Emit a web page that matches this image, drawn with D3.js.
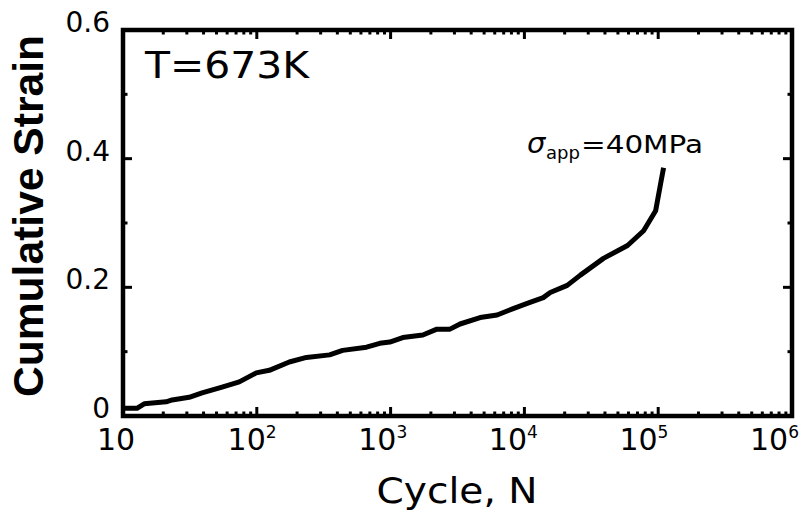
<!DOCTYPE html>
<html>
<head>
<meta charset="utf-8">
<script src="https://cdn.jsdelivr.net/npm/d3@7"></script>
<style>
  html, body { margin: 0; padding: 0; background: #fff; }
  svg { display: block; }
</style>
</head>
<body>
<script>
// ---- Data ----
const cycles = [10, 12.7, 14.4, 21, 23.3, 31.2, 39, 55, 74, 99, 124, 175, 235, 350, 438, 661, 830, 986,
                1233, 1742, 2218, 2779, 3303, 4666, 6255, 8245, 10500, 13840, 15600, 20900, 26200,
                39000, 59000, 77800, 95700, 104000, 109700];
const strain = [0.012, 0.012, 0.019, 0.022, 0.025, 0.029, 0.036, 0.045, 0.053, 0.067, 0.071, 0.084, 0.091,
                0.095, 0.102, 0.107, 0.113, 0.115, 0.122, 0.126, 0.135, 0.135, 0.143, 0.153, 0.157, 0.167,
                0.175, 0.184, 0.192, 0.203, 0.219, 0.245, 0.265, 0.288, 0.319, 0.360, 0.386];
const xMajorTicks = [10, 100, 1000, 10000, 100000, 1000000];
const xTickExponents = ["", "2", "3", "4", "5", "6"];
const yMajorTicks = [0, 0.2, 0.4, 0.6];
const yTickLabels = ["0", "0.2", "0.4", "0.6"];
const yMinorTicks = [0.1, 0.3, 0.5];
const tempLabel = "T=673K";
const stressLabel = "=40MPa";
const xTitle = "Cycle, N";
const yTitle = "Cumulative Strain";

// ---- Layout ----
const W = 808, H = 514;
const pLeft = 123, pRight = 792, pTop = 30, pBottom = 416;

const svg = d3.select("body").append("svg").attr("width", W).attr("height", H);

const x = d3.scaleLog().domain([10, 1e6]).range([pLeft, pRight]);
const y = d3.scaleLinear().domain([0, 0.6]).range([pBottom, pTop]);
// tick-label anchor positions (labels sit slightly left of their ticks, more so to the right)
const xLabel = d3.scaleLog().domain([10, 1e6]).range([pLeft - 26, pRight - 42]);

// minor x ticks
const xMinorTicks = [];
for (let k = 1; k <= 5; k++) for (let m = 2; m <= 9; m++) xMinorTicks.push(m * Math.pow(10, k));

const tickG = svg.append("g").attr("stroke", "#000").attr("stroke-width", 3);
const majL = 9, minL = 4.5;
xMajorTicks.forEach(v => {
  tickG.append("line").attr("x1", x(v)).attr("x2", x(v)).attr("y1", pBottom).attr("y2", pBottom - majL);
  tickG.append("line").attr("x1", x(v)).attr("x2", x(v)).attr("y1", pTop).attr("y2", pTop + majL);
});
xMinorTicks.forEach(v => {
  tickG.append("line").attr("x1", x(v)).attr("x2", x(v)).attr("y1", pBottom).attr("y2", pBottom - minL);
  tickG.append("line").attr("x1", x(v)).attr("x2", x(v)).attr("y1", pTop).attr("y2", pTop + minL);
});
yMajorTicks.forEach(v => {
  tickG.append("line").attr("x1", pLeft).attr("x2", pLeft + majL).attr("y1", y(v)).attr("y2", y(v));
  tickG.append("line").attr("x1", pRight).attr("x2", pRight - majL).attr("y1", y(v)).attr("y2", y(v));
});
yMinorTicks.forEach(v => {
  tickG.append("line").attr("x1", pLeft).attr("x2", pLeft + minL).attr("y1", y(v)).attr("y2", y(v));
  tickG.append("line").attr("x1", pRight).attr("x2", pRight - minL).attr("y1", y(v)).attr("y2", y(v));
});

// frame
svg.append("rect")
  .attr("x", pLeft).attr("y", pTop).attr("width", pRight - pLeft).attr("height", pBottom - pTop)
  .attr("fill", "none").attr("stroke", "#000").attr("stroke-width", 4.5);

// curve
const line = d3.line().x((d, i) => x(cycles[i])).y((d, i) => y(strain[i]));
svg.append("path")
  .datum(strain)
  .attr("d", line)
  .attr("fill", "none").attr("stroke", "#000").attr("stroke-width", 5)
  .attr("stroke-linejoin", "round").attr("stroke-linecap", "butt");

// x tick labels
const font = "'DejaVu Sans', sans-serif";
xMajorTicks.forEach((v, i) => {
  const t = svg.append("text")
    .attr("x", xLabel(v)).attr("y", 450)
    .attr("font-family", font).attr("font-size", 30).attr("fill", "#000");
  t.append("tspan").text("10");
  if (xTickExponents[i]) {
    t.append("tspan").attr("font-size", 17).attr("dy", -12).text(xTickExponents[i]);
  }
});

// y tick labels
yMajorTicks.forEach((v, i) => {
  svg.append("text")
    .attr("x", 110).attr("y", y(v) + 2)
    .attr("text-anchor", "end")
    .attr("font-family", font).attr("font-size", 28).attr("fill", "#000")
    .text(yTickLabels[i]);
});

// axis titles
svg.append("text")
  .attr("x", 457).attr("y", 503)
  .attr("text-anchor", "middle")
  .attr("font-family", font).attr("font-size", 36)
  .attr("textLength", 161).attr("lengthAdjust", "spacingAndGlyphs")
  .text(xTitle);

svg.append("text")
  .attr("transform", "translate(43,216) rotate(-90)")
  .attr("text-anchor", "middle")
  .attr("font-family", "'Liberation Sans', Arial, sans-serif").attr("font-weight", "bold")
  .attr("font-size", 42)
  .attr("textLength", 362).attr("lengthAdjust", "spacingAndGlyphs")
  .text(yTitle);

// temperature label
svg.append("text")
  .attr("x", 145).attr("y", 78)
  .attr("font-family", font).attr("font-size", 38)
  .attr("textLength", 164).attr("lengthAdjust", "spacingAndGlyphs")
  .text(tempLabel);

// stress annotation
svg.append("text")
  .attr("x", 527).attr("y", 153)
  .attr("font-family", font).attr("font-style", "italic").attr("font-size", 29)
  .text("σ");
svg.append("text")
  .attr("x", 546).attr("y", 159)
  .attr("font-family", font).attr("font-size", 18)
  .attr("textLength", 34).attr("lengthAdjust", "spacingAndGlyphs")
  .text("app");
svg.append("text")
  .attr("x", 581).attr("y", 153)
  .attr("font-family", font).attr("font-size", 25)
  .attr("textLength", 122).attr("lengthAdjust", "spacingAndGlyphs")
  .text(stressLabel);
</script>
</body>
</html>
